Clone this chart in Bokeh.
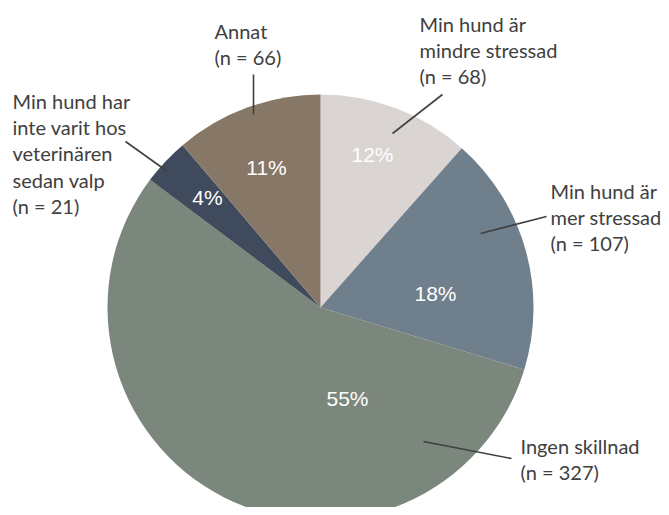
import math
from bokeh.plotting import figure
from bokeh.models import Range1d, ColumnDataSource
from bokeh.core.properties import value
from bokeh.embed import file_html
from bokeh.resources import INLINE

# ---------------- data ----------------
categories = [
    "Min hund är mindre stressad",
    "Min hund är mer stressad",
    "Ingen skillnad",
    "Min hund har inte varit hos veterinären sedan valp",
    "Annat",
]
counts = [68, 107, 327, 21, 66]
pct_labels = ["12%", "18%", "55%", "4%", "11%"]
label_text_lines = [
    ["Min hund är", "mindre stressad"],
    ["Min hund är", "mer stressad"],
    ["Ingen skillnad"],
    ["Min hund har", "inte varit hos", "veterinären", "sedan valp"],
    ["Annat"],
]
colors = ["#dad4d3", "#6f7f8c", "#7b877d", "#3f4b5c", "#877767"]

# ---------------- layout (picture pixels) ----------------
W, H = 661, 507
CX, CY, R = 320, 307, 213
pct_pos = [(372, 154), (435, 293), (347, 398), (207, 197), (266, 167)]
label_pos = [(419, 23), (550, 190), (520, 445), (12, 100), (214, 30)]
LINE_H = 26.4
leaders = [
    ((442, 94), (392, 133)),
    ((546, 216), (480, 233)),
    ((511, 458), (423, 441)),
    ((125, 141), (167, 171)),
    ((253, 74), (253, 114)),
]
TEXT_COLOR = "#404040"


def fx(x):
    return x


def fy(y):
    return H - y


total = sum(counts)
starts, ends = [], []
cum = 0
for c in counts:
    starts.append(math.pi / 2 - 2 * math.pi * cum / total)
    cum += c
    ends.append(math.pi / 2 - 2 * math.pi * cum / total)

src = ColumnDataSource(dict(
    cat=categories, n=counts, start=starts, end=ends, color=colors,
    x=[fx(CX)] * len(counts), y=[fy(CY)] * len(counts),
))

p = figure(width=W, height=H, output_backend="svg", toolbar_location=None,
           x_range=Range1d(0, W), y_range=Range1d(0, H),
           x_axis_location=None, y_axis_location=None, min_border=0)
p.grid.visible = False
p.outline_line_color = None
p.background_fill_color = "white"
p.border_fill_color = "white"

p.wedge(x="x", y="y", radius=R, radius_units="screen",
        start_angle="start", end_angle="end", direction="clock",
        fill_color="color", line_color=None, source=src)

# percentage labels
p.text(x=[fx(a) for a, b in pct_pos], y=[fy(b) for a, b in pct_pos], text=pct_labels,
       text_color="white", text_font=value("Liberation Sans"), text_font_size="21px",
       text_align="center", text_baseline="middle")

# leader lines
for (a, b) in leaders:
    p.line(x=[fx(a[0]), fx(b[0])], y=[fy(a[1]), fy(b[1])],
           line_color=TEXT_COLOR, line_width=1.6)

# category labels
xs, ys, ts = [], [], []
for i, lines in enumerate(label_text_lines):
    all_lines = lines + [f"(n = {counts[i]})"]
    lx, ly = label_pos[i]
    for j, t in enumerate(all_lines):
        xs.append(fx(lx))
        ys.append(fy(ly + j * LINE_H))
        ts.append(t)
p.text(x=xs, y=ys, text=ts, text_color=TEXT_COLOR, text_font=value("Lato"),
       text_font_size="20px", text_align="left", text_baseline="middle")

open("out.html", "w").write(file_html(p, INLINE))
